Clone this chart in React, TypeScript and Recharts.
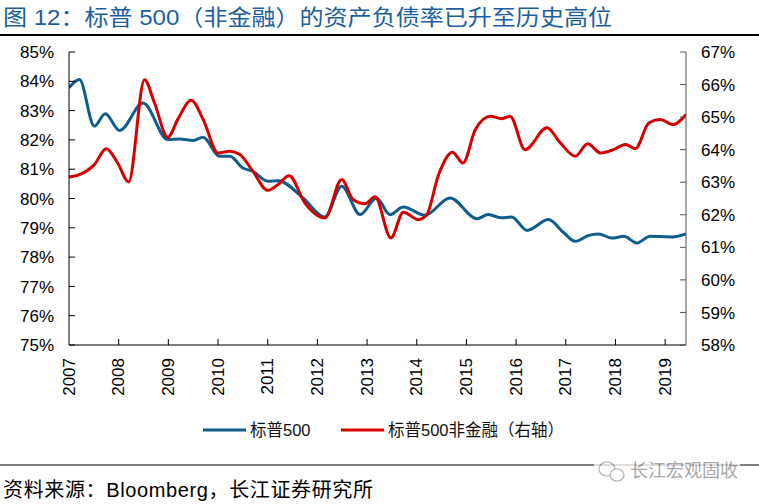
import React from 'react';
import { LineChart, Line, XAxis, YAxis } from 'recharts';

const TITLE = '图 12：标普 500（非金融）的资产负债率已升至历史高位';
const SOURCE = '资料来源：Bloomberg，长江证券研究所';
const WATERMARK = '长江宏观固收';
const seriesNames = ['标普500', '标普500非金融（右轴）'];
const seriesColors = ['#0f5d8c', '#d40000'];

const years = [2007, 2008, 2009, 2010, 2011, 2012, 2013, 2014, 2015, 2016, 2017, 2018, 2019];
const leftTicks = [75, 76, 77, 78, 79, 80, 81, 82, 83, 84, 85];
const rightTicks = [58, 59, 60, 61, 62, 63, 64, 65, 66, 67];

// 标普500 (left axis, %)
const spDates = [2007.00, 2007.21, 2007.51, 2007.73, 2008.02, 2008.49, 2008.99, 2009.23, 2009.50, 2009.70, 2010.03, 2010.24, 2010.50, 2010.70, 2011.00, 2011.21, 2011.71, 2012.15, 2012.49, 2012.86, 2013.19, 2013.46, 2013.73, 2014.17, 2014.67, 2015.21, 2015.44, 2015.71, 2015.91, 2016.22, 2016.65, 2016.96, 2017.19, 2017.46, 2017.66, 2017.93, 2018.17, 2018.43, 2018.70, 2019.14, 2019.42];
const spValues = [83.78, 84.06, 82.47, 82.89, 82.32, 83.26, 82.01, 82.03, 81.98, 82.09, 81.44, 81.44, 81.04, 80.93, 80.59, 80.61, 80.02, 79.37, 80.42, 79.45, 80.02, 79.45, 79.71, 79.43, 80.02, 79.31, 79.45, 79.34, 79.37, 78.91, 79.28, 78.83, 78.54, 78.74, 78.79, 78.65, 78.71, 78.48, 78.71, 78.69, 78.79];

// 标普500非金融 (right axis, %)
const nfDates = [2007.00, 2007.21, 2007.51, 2007.75, 2007.98, 2008.20, 2008.52, 2008.72, 2008.99, 2009.19, 2009.46, 2009.70, 2010.00, 2010.24, 2010.44, 2010.70, 2011.00, 2011.21, 2011.43, 2011.75, 2012.15, 2012.49, 2012.72, 2012.96, 2013.16, 2013.48, 2013.73, 2014.03, 2014.20, 2014.44, 2014.72, 2014.93, 2015.18, 2015.48, 2015.71, 2015.88, 2016.18, 2016.62, 2016.89, 2017.19, 2017.44, 2017.70, 2017.96, 2018.20, 2018.40, 2018.67, 2018.90, 2019.16, 2019.42];
const nfValues = [63.16, 63.23, 63.54, 64.03, 63.59, 63.01, 66.15, 65.44, 64.38, 64.93, 65.52, 64.93, 63.90, 63.95, 63.85, 63.34, 62.75, 62.93, 63.20, 62.36, 61.90, 63.08, 62.47, 62.34, 62.55, 61.29, 62.08, 61.85, 62.00, 63.23, 63.92, 63.59, 64.62, 65.03, 64.95, 65.03, 64.00, 64.67, 64.21, 63.80, 64.18, 63.90, 64.00, 64.16, 64.03, 64.82, 64.93, 64.77, 65.08];

const allDates = Array.from(new Set([...spDates, ...nfDates])).sort((a, b) => a - b);
const table = allDates.map((t) => {
  const i = spDates.indexOf(t);
  const j = nfDates.indexOf(t);
  return { t, sp: i >= 0 ? spValues[i] : null, nf: j >= 0 ? nfValues[j] : null };
});

const FONT = '"Liberation Sans", Arial, "Noto Sans CJK SC", sans-serif';
const TM = 15;

const LeftTick = (props: any) => {
  const { x, y, payload } = props;
  return (
    <g>
      <line x1={x + TM} x2={x + TM + 6} y1={y} y2={y} stroke="#000" strokeWidth={1} />
      <text x={x} y={y} dy="0.36em" textAnchor="end" fontSize={17} fontFamily={FONT} fill="#000">
        {payload.value}%
      </text>
    </g>
  );
};

const RightTick = (props: any) => {
  const { x, y, payload } = props;
  return (
    <g>
      <line x1={x - TM} x2={x - TM - 6} y1={y} y2={y} stroke="#555" strokeWidth={1} />
      <text x={x} y={y} dy="0.36em" textAnchor="start" fontSize={17} fontFamily={FONT} fill="#000">
        {payload.value}%
      </text>
    </g>
  );
};

const XM = 13;
const BottomTick = (props: any) => {
  const { x, y, payload, index } = props;
  return (
    <g>
      {index > 0 && <line x1={x} x2={x} y1={y - XM} y2={y - XM - 6} stroke="#000" strokeWidth={1} />}
      <text
        x={x}
        y={y}
        transform={`rotate(-90, ${x}, ${y})`}
        textAnchor="end"
        dominantBaseline="central"
        fontSize={17}
        fontFamily={FONT}
        fill="#000"
      >
        {payload.value}
      </text>
    </g>
  );
};

export default function App() {
  return (
    <div style={{ position: 'absolute', left: 0, top: 0, width: 759, height: 504, background: '#fff', overflow: 'hidden' }}>
      <svg width={759} height={504} style={{ position: 'absolute', left: 0, top: 0 }}>
        <text x={3} y={25} fontSize={22} fontFamily={FONT} fill="#1c5fa0" textLength={609} lengthAdjust="spacingAndGlyphs">
          {TITLE}
        </text>
        <line x1={0} x2={759} y1={35} y2={35} stroke="#000" strokeWidth={2} />
        {/* legend */}
        <line x1={203} x2={246} y1={430} y2={430} stroke={seriesColors[0]} strokeWidth={3} />
        <text x={250} y={430} dominantBaseline="central" fontSize={16.5} fontFamily={FONT} fill="#111">
          {seriesNames[0]}
        </text>
        <line x1={341} x2={384} y1={430} y2={430} stroke={seriesColors[1]} strokeWidth={3} />
        <text x={388} y={430} dominantBaseline="central" fontSize={16.5} fontFamily={FONT} fill="#111">
          {seriesNames[1]}
        </text>
        <line x1={0} x2={759} y1={465} y2={465} stroke="#000" strokeWidth={1} />
        <text x={3} y={490} dominantBaseline="central" fontSize={20} fontFamily={FONT} fill="#000" textLength={370} lengthAdjust="spacing">
          {SOURCE}
        </text>
        {/* watermark */}
        <g opacity={0.75}>
          <rect x={594} y={458} width={146} height={26} fill="#fff" />
          <ellipse cx={607} cy={469} rx={8} ry={7} fill="none" stroke="#999" strokeWidth={1.2} />
          <ellipse cx={617} cy={475} rx={7} ry={6} fill="#fff" stroke="#999" strokeWidth={1.2} />
          <text x={630} y={471} dominantBaseline="central" fontSize={18} fontFamily={FONT} fill="#8c8c8c">
            {WATERMARK}
          </text>
        </g>
      </svg>
      <div style={{ position: 'absolute', left: 0, top: 0 }}>
        <LineChart width={759} height={504} data={table} margin={{ top: 52, right: 0, left: 0, bottom: 99 }}>
          <XAxis
            dataKey="t"
            type="number"
            domain={[2007, 2019.42]}
            ticks={years}
            interval={0}
            tickSize={0}
            tickMargin={XM}
            height={60}
            axisLine={{ stroke: '#000', strokeWidth: 1 }}
            tickLine={false}
            tick={<BottomTick />}
            allowDataOverflow
          />
          <YAxis
            yAxisId="left"
            orientation="left"
            domain={[75, 85]}
            ticks={leftTicks}
            interval={0}
            width={69}
            tickSize={0}
            tickMargin={TM}
            axisLine={{ stroke: '#000', strokeWidth: 1 }}
            tickLine={false}
            tick={<LeftTick />}
            allowDataOverflow
          />
          <YAxis
            yAxisId="right"
            orientation="right"
            domain={[58, 67]}
            ticks={rightTicks}
            interval={0}
            width={73}
            tickSize={0}
            tickMargin={TM}
            axisLine={{ stroke: '#555', strokeWidth: 1 }}
            tickLine={false}
            tick={<RightTick />}
            allowDataOverflow
          />
          <Line
            yAxisId="left"
            type="monotone"
            dataKey="sp"
            name={seriesNames[0]}
            stroke={seriesColors[0]}
            strokeWidth={3}
            dot={false}
            connectNulls
            isAnimationActive={false}
          />
          <Line
            yAxisId="right"
            type="monotone"
            dataKey="nf"
            name={seriesNames[1]}
            stroke={seriesColors[1]}
            strokeWidth={3}
            dot={false}
            connectNulls
            isAnimationActive={false}
          />
        </LineChart>
      </div>
    </div>
  );
}
